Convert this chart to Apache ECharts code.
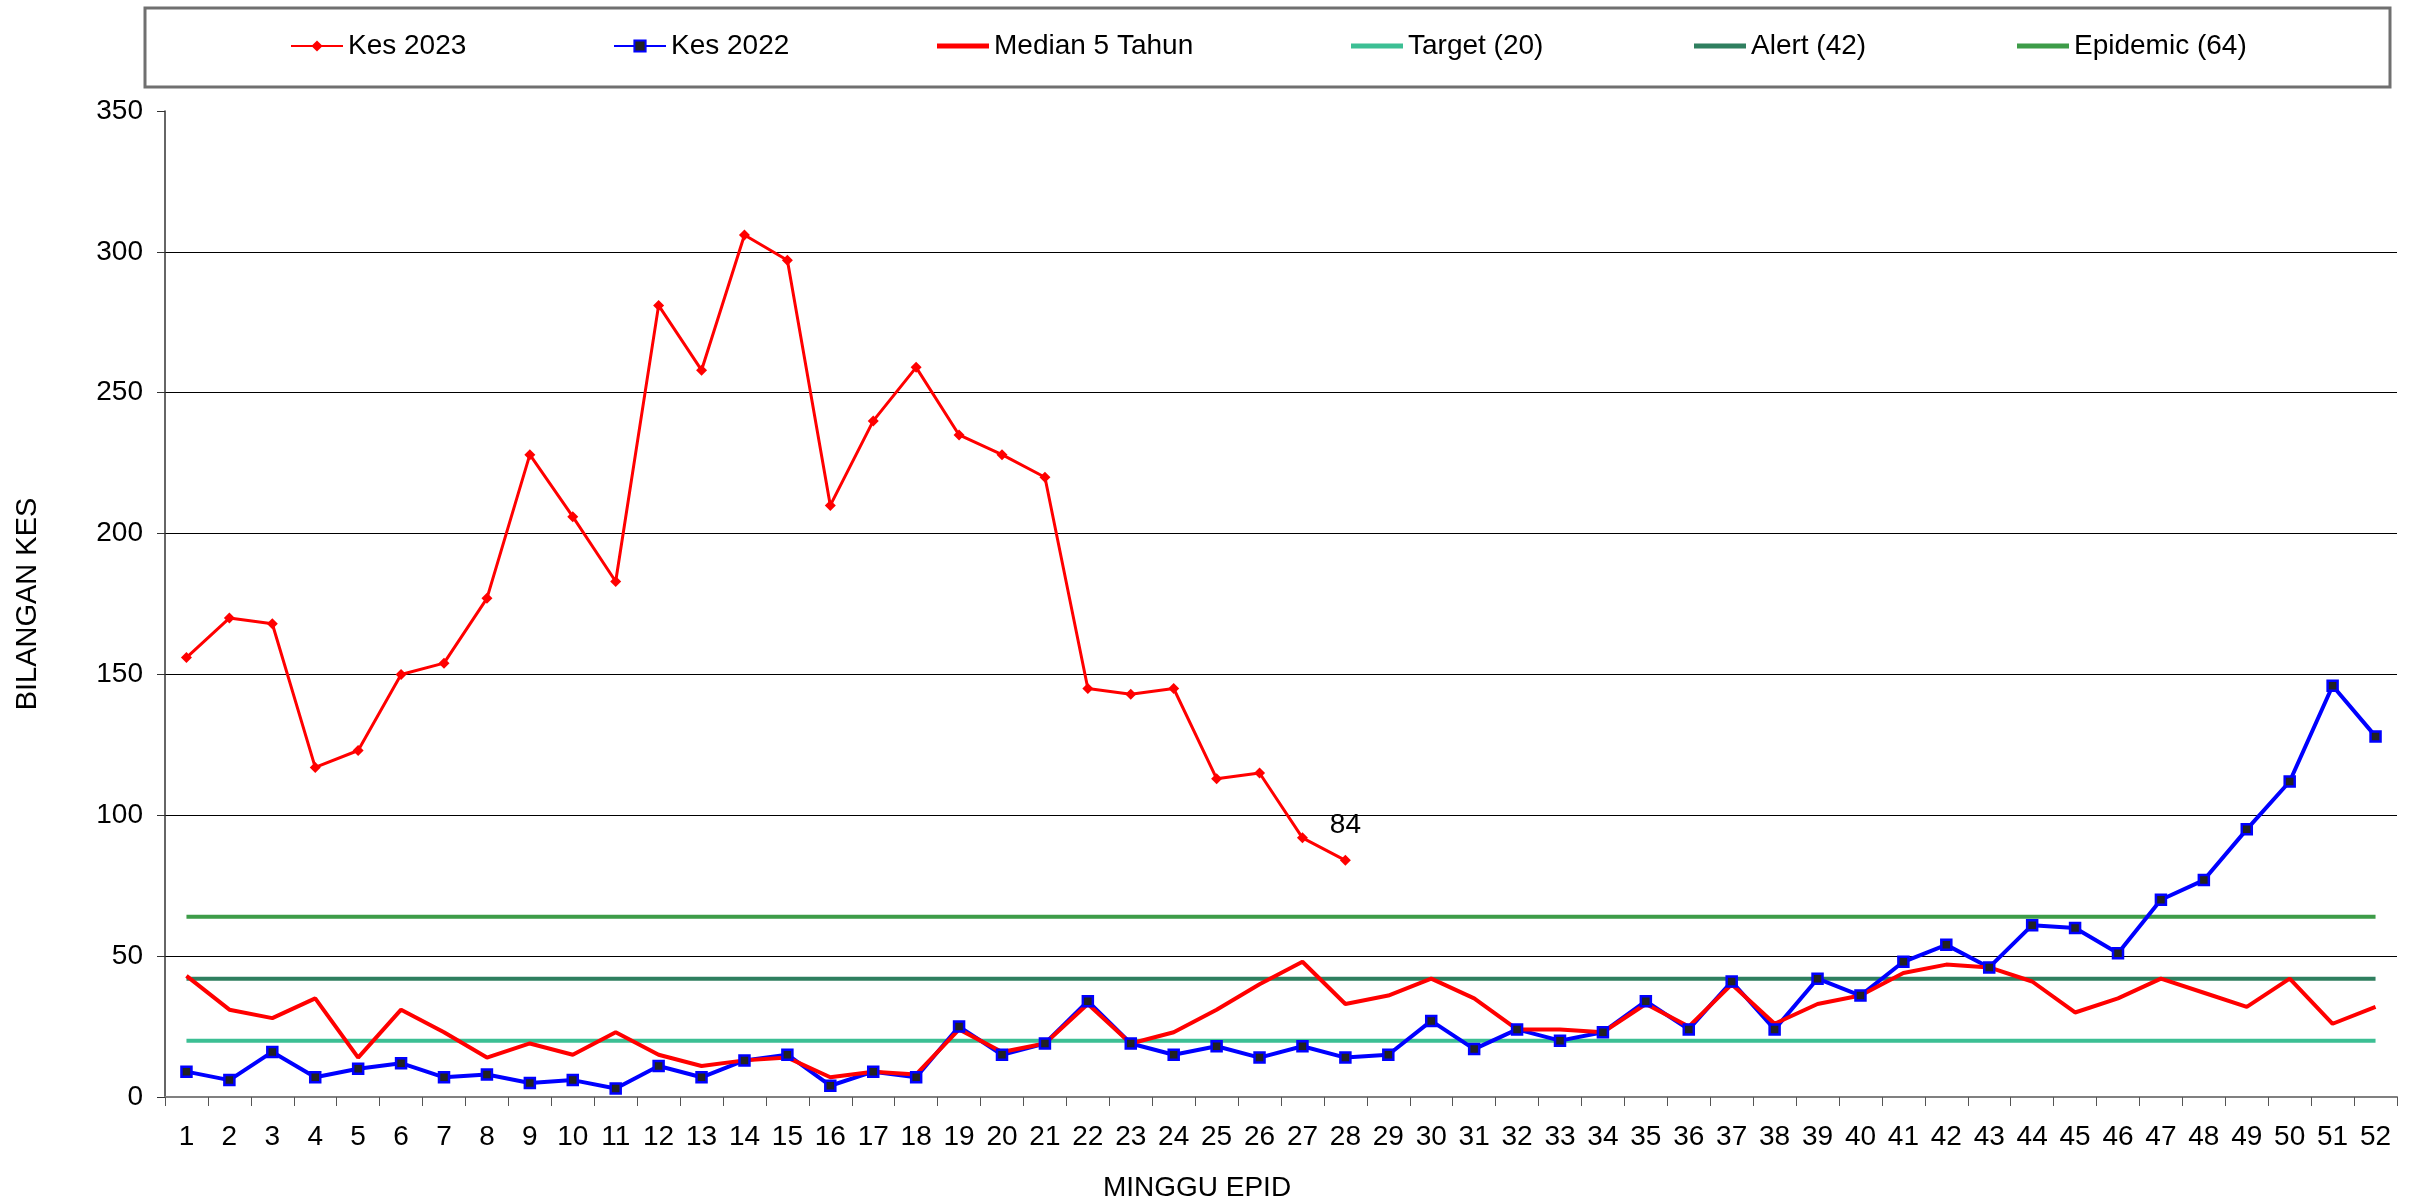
<!DOCTYPE html>
<html>
<head>
<meta charset="utf-8">
<script src="https://cdn.jsdelivr.net/npm/echarts@6/dist/echarts.min.js"></script>
<style>
  html, body { margin: 0; padding: 0; background: #fff; }
  #chart { width: 2422px; height: 1202px; }
</style>
</head>
<body>
<div id="chart"></div>
<script>
  // minggu epid 1..52
  const weeks = [];
  for (let i = 1; i <= 52; i++) weeks.push(String(i));

  const kes2023 = [156, 170, 168, 117, 123, 150, 154, 177, 228, 206, 183, 281, 258, 306,
    297, 210, 240, 259, 235, 228, 220, 145, 143, 145, 113, 115, 92, 84];

  const kes2022 = [9, 6, 16, 7, 10, 12, 7, 8, 5, 6, 3, 11, 7, 13, 15, 4, 9, 7, 25, 15,
    19, 34, 19, 15, 18, 14, 18, 14, 15, 27, 17, 24, 20, 23, 34, 24, 41, 24, 42, 36,
    48, 54, 46, 61, 60, 51, 70, 77, 95, 112, 146, 128];

  const median5 = [43, 31, 28, 35, 14, 31, 23, 14, 19, 15, 23, 15, 11, 13, 14, 7, 9, 8,
    24, 16, 19, 33, 19, 23, 31, 40, 48, 33, 36, 42, 35, 24, 24, 23, 33, 25, 40, 26,
    33, 36, 44, 47, 46, 41, 30, 35, 42, 37, 32, 42, 26, 32];

  const target = weeks.map(() => 20);
  const alert = weeks.map(() => 42);
  const epidemic = weeks.map(() => 64);

  const yTicks = [0, 50, 100, 150, 200, 250, 300, 350];

  const font = "'Liberation Sans', Arial, sans-serif";

  const chart = echarts.init(document.getElementById("chart"));

  // plain line icon for series without markers
  const legendAt = (name, left, plain) => ({
    data: [plain ? { name: name, icon: "rect" } : name],
    left: left,
    top: 32,
    padding: 0,
    itemWidth: 52,
    itemHeight: plain ? 5 : 14,
    textStyle: { fontSize: 28, fontFamily: font, color: "#000" },
  });

  const option = {
    animation: false,
    backgroundColor: "#fff",
    legend: [
      legendAt("Kes 2023", 290),
      legendAt("Kes 2022", 613),
      legendAt("Median 5 Tahun", 937, true),
      legendAt("Target (20)", 1351, true),
      legendAt("Alert (42)", 1694, true),
      legendAt("Epidemic (64)", 2017, true),
    ],
    graphic: [
      {
        type: "rect",
        shape: { x: 145, y: 8, width: 2245, height: 79 },
        style: { fill: "none", stroke: "#707070", lineWidth: 3 },
        z: -1,
      },
      {
        type: "text",
        x: 1197,
        y: 1188,
        style: {
          text: "MINGGU EPID",
          font: "28px " + font,
          fill: "#000",
          textAlign: "center",
          textVerticalAlign: "middle",
        },
      },
    ],
    grid: { left: 165, right: 25, top: 111, bottom: 105 },
    xAxis: {
      type: "category",
      data: weeks,
      boundaryGap: true,
      axisLine: { lineStyle: { color: "#808080", width: 2 } },
      axisTick: { show: true, length: 9, lineStyle: { color: "#555" } },
      axisLabel: {
        interval: 0,
        fontSize: 28,
        fontFamily: font,
        color: "#000",
        margin: 26,
      },
    },
    yAxis: {
      type: "value",
      min: yTicks[0],
      max: yTicks[yTicks.length - 1],
      interval: 50,
      name: "BILANGAN KES",
      nameLocation: "middle",
      nameGap: 123,
      nameTextStyle: { fontSize: 29, fontFamily: font, color: "#000" },
      axisLine: { show: true, lineStyle: { color: "#333", width: 1.5 } },
      axisTick: { show: true, length: 8, lineStyle: { color: "#333" } },
      axisLabel: { fontSize: 28, fontFamily: font, color: "#000", margin: 22 },
      splitLine: {
        show: true,
        showMinLine: false,
        showMaxLine: false,
        lineStyle: { color: "#000", width: 1 },
      },
    },
    series: [
      {
        name: "Target (20)",
        type: "line",
        data: target,
        symbol: "none",
        lineStyle: { color: "#3CBF94", width: 4 },
        itemStyle: { color: "#3CBF94" },
      },
      {
        name: "Alert (42)",
        type: "line",
        data: alert,
        symbol: "none",
        lineStyle: { color: "#2F7F5F", width: 4 },
        itemStyle: { color: "#2F7F5F" },
      },
      {
        name: "Epidemic (64)",
        type: "line",
        data: epidemic,
        symbol: "none",
        lineStyle: { color: "#3D9C48", width: 4 },
        itemStyle: { color: "#3D9C48" },
      },
      {
        name: "Kes 2022",
        type: "line",
        data: kes2022,
        symbol: "rect",
        symbolSize: 10,
        lineStyle: { color: "#0000FF", width: 4 },
        itemStyle: { color: "#222", borderColor: "#0000FF", borderWidth: 2.5 },
      },
      {
        name: "Median 5 Tahun",
        type: "line",
        data: median5,
        symbol: "none",
        lineStyle: { color: "#FF0000", width: 4 },
        itemStyle: { color: "#FF0000" },
      },
      {
        name: "Kes 2023",
        type: "line",
        data: kes2023.map((v, i) =>
          i === kes2023.length - 1
            ? {
                value: v,
                label: {
                  show: true,
                  position: "top",
                  distance: 16,
                  fontSize: 28,
                  fontFamily: font,
                  color: "#000",
                },
              }
            : v
        ),
        symbol: "diamond",
        symbolSize: 11,
        lineStyle: { color: "#FF0000", width: 3 },
        itemStyle: { color: "#FF0000" },
      },
    ],
  };

  chart.setOption(option);
</script>
</body>
</html>
